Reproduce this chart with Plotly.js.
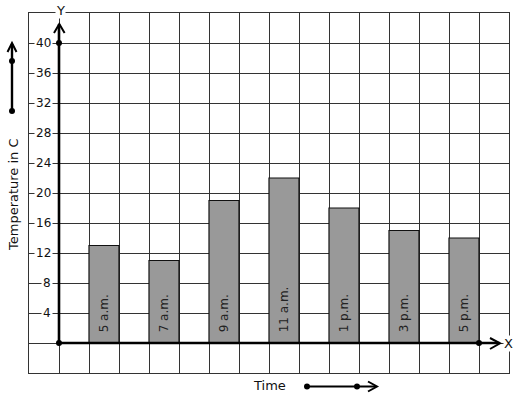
<!DOCTYPE html>
<html>
<head>
<meta charset="utf-8">
<script src="https://cdn.plot.ly/plotly-3.0.1.min.js"></script>
<style>html,body{margin:0;padding:0;background:#fff;}#chart{width:517px;height:399px;}</style>
</head>
<body>
<div id="chart"></div>
<script>
// ---- data ----
var times = ["5 a.m.", "7 a.m.", "9 a.m.", "11 a.m.", "1 p.m.", "3 p.m.", "5 p.m."];
var temperatures = [13, 11, 19, 22, 18, 15, 14];
var yTickValues = [4, 8, 12, 16, 20, 24, 28, 32, 36, 40];
var axisDotsX = [0, 0, 14];
var axisDotsY = [0, 40, 0];

// ---- layout helpers ----
var W = 517, H = 399, ML = 29, MR = 8, MT = 13, MB = 26;
var PW = W - ML - MR, PH = H - MT - MB;
function PX(px) { return (px - ML) / PW; }
function PY(py) { return (H - MB - py) / PH; }
var FONT = "DejaVu Sans, Verdana, sans-serif";
var INK = "#111";
var GRID = "#333";

var barX = times.map(function (t, i) { return 2 * i + 1.5; });
var barText = times.map(function (t) { return "\u00a0\u00a0" + t; });

var bars = {
  type: "bar",
  x: barX,
  y: temperatures,
  width: 1,
  text: barText,
  textposition: "inside",
  insidetextanchor: "start",
  textangle: -90,
  textfont: { family: FONT, size: 12, color: "#222" },
  marker: { color: "#999999", line: { color: INK, width: 1.2 } },
  hoverinfo: "skip"
};

var dots = {
  type: "scatter",
  mode: "markers",
  x: axisDotsX,
  y: axisDotsY,
  marker: { color: "#000", size: 6 },
  cliponaxis: false,
  hoverinfo: "skip"
};

var annotations = yTickValues.map(function (v) {
  return {
    x: -0.2, y: v, xref: "x", yref: "y",
    text: String(v), showarrow: false,
    xanchor: "right", yanchor: "middle",
    bgcolor: "#fff", borderpad: 1,
    font: { family: FONT, size: 12, color: "#111" }
  };
});
annotations.push({
  x: 0.05, y: 1, xref: "x", yref: "paper", yshift: 3,
  text: "Y", showarrow: false, xanchor: "center", yanchor: "middle",
  bgcolor: "#fff", borderpad: 0,
  font: { family: FONT, size: 13, color: "#111" }
});
annotations.push({
  x: 14.97, y: 0, xref: "x", yref: "y",
  text: "X", showarrow: false, xanchor: "center", yanchor: "middle",
  bgcolor: "#fff", borderpad: 0,
  font: { family: FONT, size: 13, color: "#111" }
});
annotations.push({
  x: PX(13), y: PY(195), xref: "paper", yref: "paper",
  text: "Temperature in C", textangle: -90, showarrow: false,
  xanchor: "center", yanchor: "middle",
  font: { family: FONT, size: 13, color: "#111" }
});
annotations.push({
  x: PX(269), y: PY(385), xref: "paper", yref: "paper",
  text: "Time", showarrow: false,
  xanchor: "center", yanchor: "middle",
  font: { family: FONT, size: 13, color: "#111" }
});

function pline(x0, y0, x1, y1, w) {
  return { type: "line", xref: "paper", yref: "paper",
    x0: PX(x0), y0: PY(y0), x1: PX(x1), y1: PY(y1),
    line: { color: "#000", width: w } };
}
function ppath(pts, w) {
  var d = pts.map(function (p, i) { return (i ? "L" : "M") + PX(p[0]) + "," + PY(p[1]); }).join(" ");
  return { type: "path", xref: "paper", yref: "paper", path: d,
    line: { color: "#000", width: w } };
}
function pdot(x, y) {
  return { type: "circle", xref: "paper", yref: "paper",
    x0: PX(x - 3), x1: PX(x + 3), y0: PY(y - 3), y1: PY(y + 3),
    fillcolor: "#000", line: { color: "#000", width: 0 } };
}

var shapes = [
  // y axis (thick) with chevron arrow
  { type: "line", xref: "x", yref: "y", x0: 0, y0: 0, x1: 0, y1: 42.5, line: { color: "#000", width: 2.6 }, layer: "above" },
  ppath([[54, 33], [59.3, 24], [64.6, 33]], 2),
  // x axis (thick) with chevron arrow
  { type: "line", xref: "x", yref: "y", x0: 0, y0: 0, x1: 14.68, y1: 0, line: { color: "#000", width: 2.6 }, layer: "above" },
  ppath([[490, 338], [500, 343.3], [490, 349]], 2),
  // arrow beside y title
  pline(12, 111, 12, 44, 2.4),
  ppath([[7.5, 52], [12, 43], [16.5, 52]], 2),
  // arrow beside x title
  pline(307, 386.5, 376, 386.5, 2),
  ppath([[368, 381.5], [377, 386.5], [368, 391.5]], 2)
];
shapes.push(pdot(12, 61), pdot(12, 111), pdot(307, 386.5), pdot(357, 386.5));

var layout = {
  width: W, height: H,
  margin: { l: ML, r: MR, t: MT, b: MB, pad: 0 },
  paper_bgcolor: "#fff", plot_bgcolor: "#fff",
  showlegend: false,
  font: { family: FONT, size: 12, color: "#111" },
  xaxis: {
    range: [-1, 15], dtick: 1, tick0: 0,
    showgrid: true, gridcolor: GRID, gridwidth: 1,
    zeroline: false, showticklabels: false, ticks: "",
    showline: true, mirror: true, linecolor: GRID, linewidth: 1,
    fixedrange: true
  },
  yaxis: {
    range: [-4, 44], dtick: 4, tick0: 0,
    showgrid: true, gridcolor: GRID, gridwidth: 1,
    zeroline: false, showticklabels: false, ticks: "",
    showline: true, mirror: true, linecolor: GRID, linewidth: 1,
    fixedrange: true
  },
  annotations: annotations,
  shapes: shapes
};

Plotly.newPlot("chart", [bars, dots], layout, { staticPlot: true, displayModeBar: false });
</script>
</body>
</html>
